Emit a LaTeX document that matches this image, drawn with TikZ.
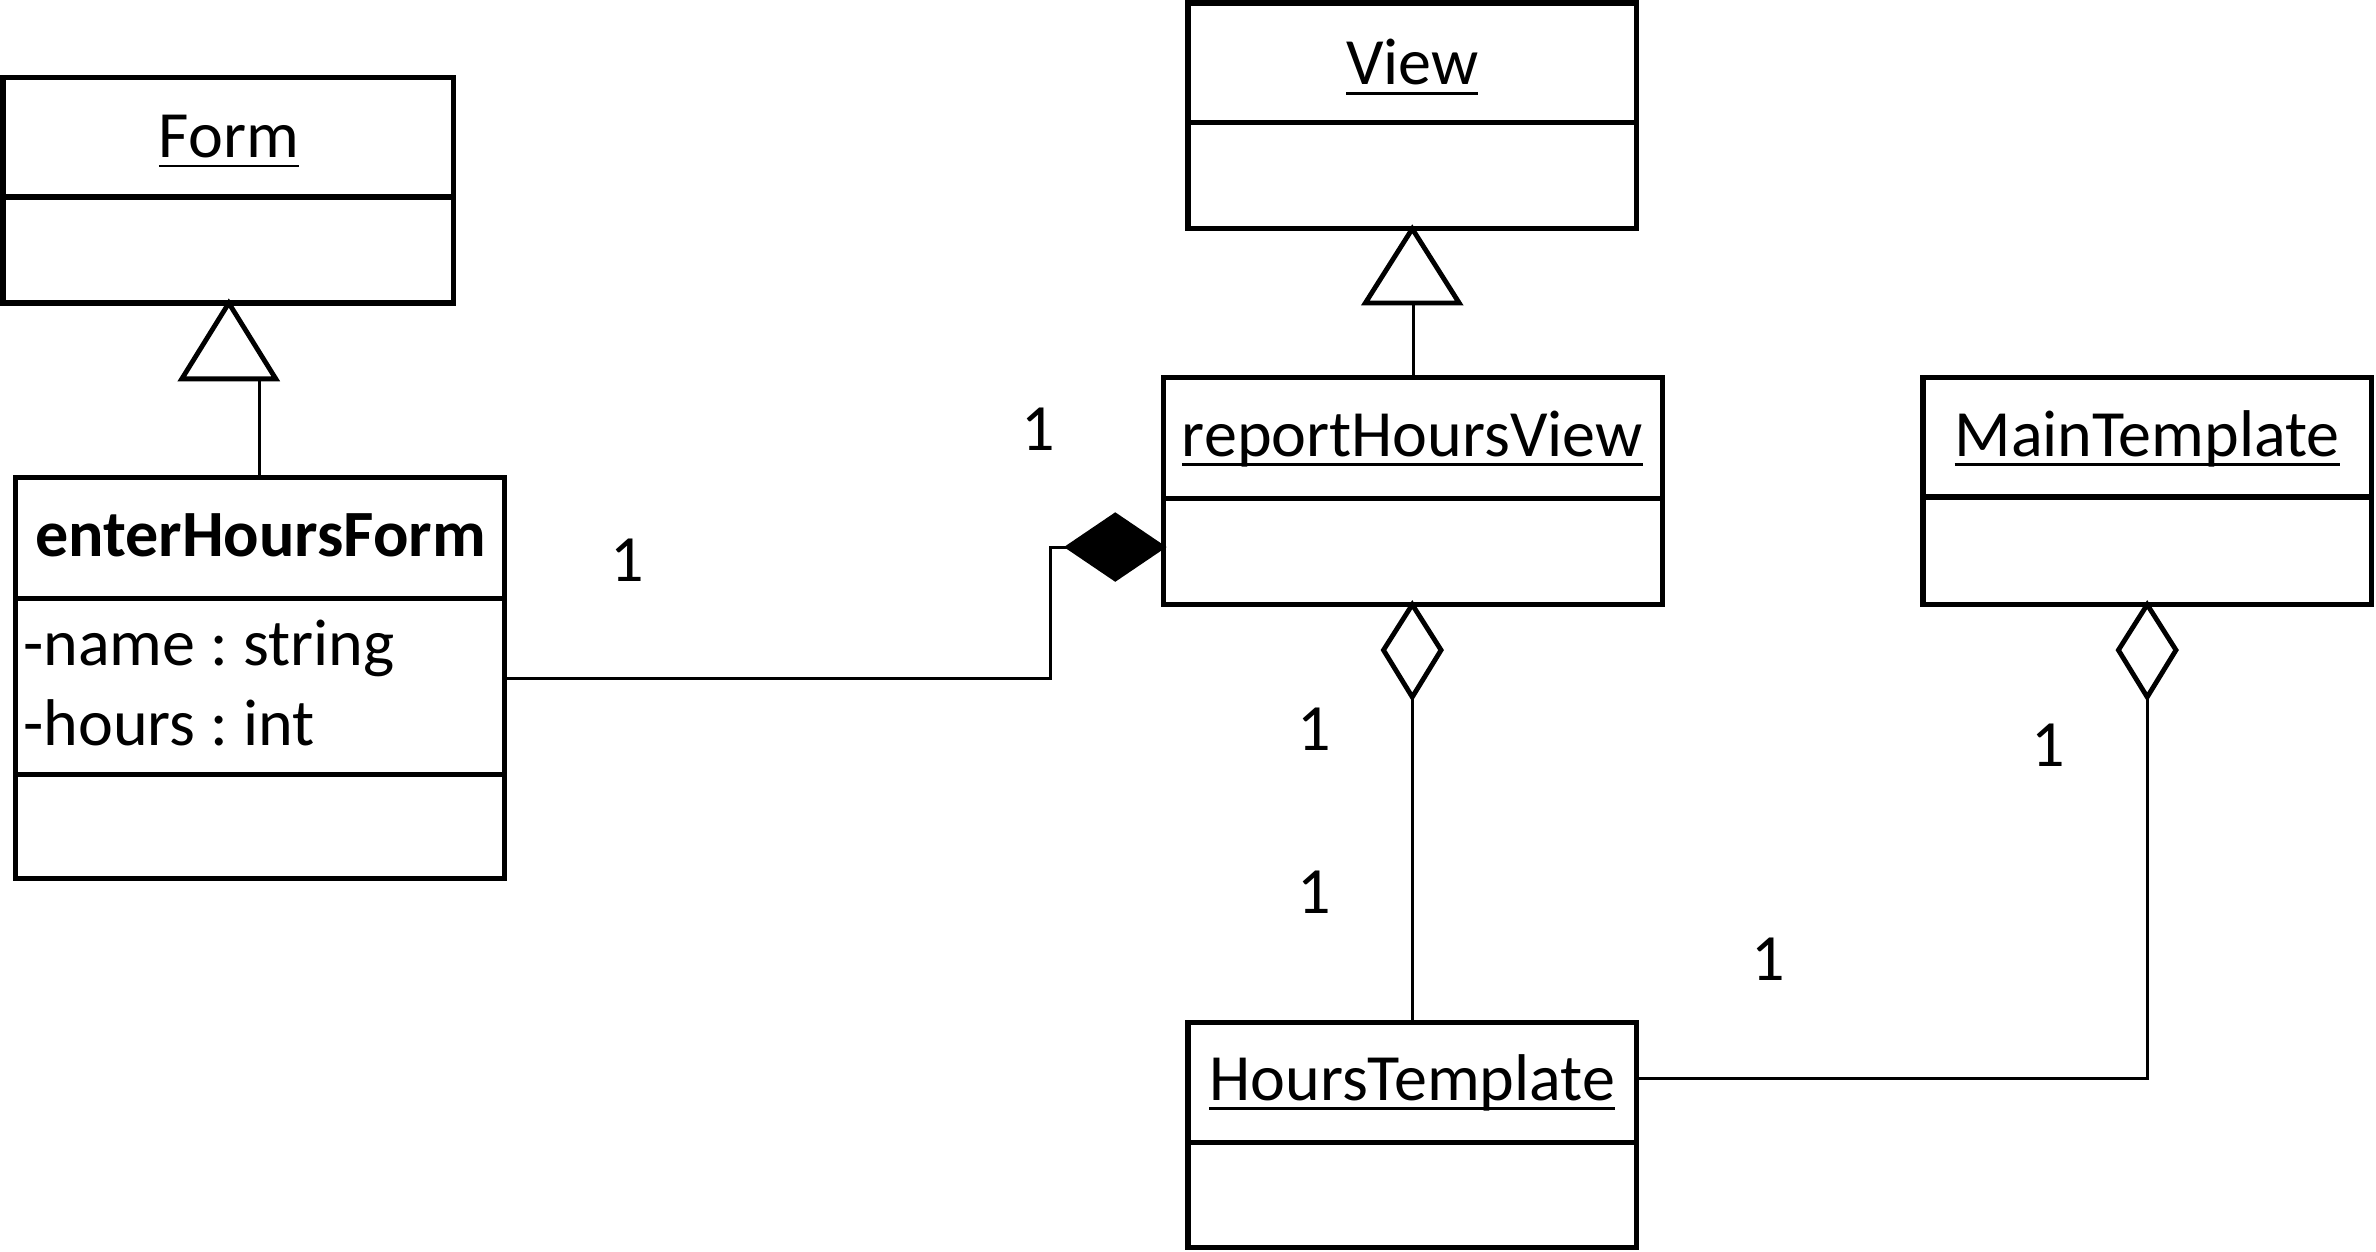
\documentclass[tikz,border=0pt]{standalone}
\usepackage{fontspec}
\setmainfont{Carlito}
\usetikzlibrary{fit}
\newcommand\myul[1]{\setbox0\hbox{#1}\rlap{\rule[-3.2pt]{\wd0}{0.9pt}}\box0}
\frenchspacing
\begin{document}
\begin{tikzpicture}[x=0.5pt,y=-0.5pt,
  font=\fontsize{21.8}{26}\selectfont,
  box/.style={draw, line width=1.7pt, inner sep=0pt},
  sepline/.style={line width=1.7pt},
  conn/.style={line width=1pt},
  tipshape/.style={line width=1.6pt, line join=miter},
  title/.style={anchor=base, inner sep=0pt},
  attr/.style={anchor=base west, inner sep=0pt},
  mult/.style={anchor=base, inner sep=0pt}]
\useasboundingbox (0,0) rectangle (1568,825.6);

% boxes
\node[box, fit={(2,51) (299,200)}] (form) {};
\draw[sepline] (2,130) -- (299,130);
\node[title] (formt) at (151,104) {\myul{Form}};

\node[box, fit={(10,315) (333,580)}] (ehf) {};
\draw[sepline] (10,395) -- (333,395);
\draw[sepline] (10,511) -- (333,511);
\node[title] (ehft) at (172,367) {\textbf{enterHoursForm}};
\node[attr] (a1) at (15,439) {-name : string};
\node[attr] (a2) at (15,492) {-hours : int};

\node[box, fit={(784,2) (1080,151)}] (view) {};
\draw[sepline] (784,81) -- (1080,81);
\node[title] (viewt) at (932,56) {\myul{View}};

\node[box, fit={(768,249) (1097,399)}] (rhv) {};
\draw[sepline] (768,329) -- (1097,329);
\node[title] (rhvt) at (932,301) {\myul{reportHoursView}};

\node[box, fit={(1269,249) (1565,399)}] (main) {};
\draw[sepline] (1269,328) -- (1565,328);
\node[title] (maint) at (1417,301) {\myul{MainTemplate}};

\node[box, fit={(784,675) (1080,823)}] (ht) {};
\draw[sepline] (784,754) -- (1080,754);
\node[title] (htt) at (932,726) {\myul{HoursTemplate}};

% generalisation: enterHoursForm -> Form
\coordinate (t1) at (151,250);
\draw[tipshape, fill=white] (151,200) -- (182,250) -- (120,250) -- cycle;
\draw[conn] (ehf.north) -- (ehf.north |- t1);

% generalisation: reportHoursView -> View
\coordinate (t2) at (932,200);
\draw[tipshape, fill=white] (932,151) -- (963,200) -- (901,200) -- cycle;
\draw[conn] (rhv.north) -- (rhv.north |- t2);

% composition: enterHoursForm -> reportHoursView
\draw[tipshape, fill=black] (705,361) -- (736,340) -- (767,361) -- (736,382) -- cycle;
\coordinate (cd) at (705,361);
\coordinate (cbend) at (693,361);
\draw[conn] (ehf.east) -| (cbend) -- (cd);

% aggregation: HoursTemplate -> reportHoursView
\draw[tipshape, fill=white] (932,399) -- (951,429) -- (932,460) -- (913,429) -- cycle;
\coordinate (ad1) at (932,460);
\draw[conn] (ad1) -- (ht.north);

% aggregation: HoursTemplate -> MainTemplate
\draw[tipshape, fill=white] (1417,399) -- (1436,429) -- (1417,460) -- (1398,429) -- cycle;
\coordinate (ad2) at (1417,460);
\coordinate (htj) at (1080,712);
\draw[conn] (ad2) |- (htj);

% multiplicities
\node[mult] (m1) at (414,384) {1};
\node[mult] (m2) at (685,297) {1};
\node[mult] (m3) at (867,495) {1};
\node[mult] (m4) at (867,603) {1};
\node[mult] (m5) at (1352,506) {1};
\node[mult] (m6) at (1167,647) {1};
\end{tikzpicture}
\end{document}
